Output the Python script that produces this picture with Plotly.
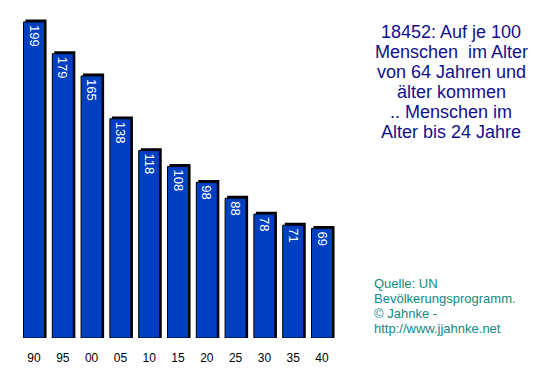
import plotly.graph_objects as go

years = ["90", "95", "00", "05", "10", "15", "20", "25", "30", "35", "40"]
values = [199, 179, 165, 138, 118, 108, 98, 88, 78, 71, 69]

title_lines = [
    "18452: Auf je 100",
    "Menschen  im Alter",
    "von 64 Jahren und",
    "älter kommen",
    ".. Menschen im",
    "Alter bis 24 Jahre",
]
source_lines = [
    "Quelle: UN",
    "Bevölkerungsprogramm.",
    "© Jahnke -",
    "http://www.jjahnke.net",
]

W, H = 553, 376
x_pos = list(range(len(years)))
bar_w = 0.73
shadow_dx = 0.07
shadow_dy = 1.5

fig = go.Figure()
fig.add_trace(go.Bar(
    x=[p + shadow_dx for p in x_pos],
    y=[v + shadow_dy for v in values],
    width=bar_w,
    marker=dict(color="#000000", line=dict(width=0)),
    hoverinfo="skip",
    showlegend=False,
))
fig.add_trace(go.Bar(
    x=x_pos,
    y=values,
    width=bar_w,
    marker=dict(color="#0040C0", line=dict(color="#000000", width=1)),
    text=[str(v) for v in values],
    textposition="inside",
    insidetextanchor="end",
    textangle=90,
    textfont=dict(family="Arial, Liberation Sans", size=13, color="#FFFFFF"),
    constraintext="none",
    showlegend=False,
))

annotations = []
for i, line in enumerate(title_lines):
    annotations.append(dict(
        x=451 / W, y=1 - (32 + 20 * i) / H, xref="paper", yref="paper",
        xanchor="center", yanchor="middle", align="center", showarrow=False,
        text=line,
        font=dict(family="Arial, Liberation Sans", size=18, color="#10108C"),
    ))
for i, line in enumerate(source_lines):
    annotations.append(dict(
        x=372 / W, y=1 - (283 + 15 * i) / H, xref="paper", yref="paper",
        xanchor="left", yanchor="middle", align="left", showarrow=False,
        text=line,
        font=dict(family="Arial, Liberation Sans", size=13, color="#108A80"),
    ))

fig.update_layout(
    width=W, height=H,
    margin=dict(l=0, r=0, t=0, b=0),
    paper_bgcolor="#FFFFFF",
    plot_bgcolor="#FFFFFF",
    barmode="overlay",
    xaxis=dict(
        domain=[19.6 / W, 336.4 / W],
        range=[-0.5, 10.5],
        tickmode="array",
        tickvals=x_pos,
        ticktext=years,
        showgrid=False, zeroline=False, showline=False,
        ticks="", automargin=False,
        ticklabelstandoff=11,
        tickfont=dict(family="Arial, Liberation Sans", size=12, color="#000000"),
    ),
    yaxis=dict(
        domain=[(H - 338) / H, (H - 10) / H],
        range=[0, 206.5],
        showgrid=False, zeroline=False, showline=False,
        showticklabels=False, ticks="", automargin=False,
    ),
    annotations=annotations,
)

fig.write_html("out.html", config={"displayModeBar": False},
               post_script="document.body.style.margin='0';")
